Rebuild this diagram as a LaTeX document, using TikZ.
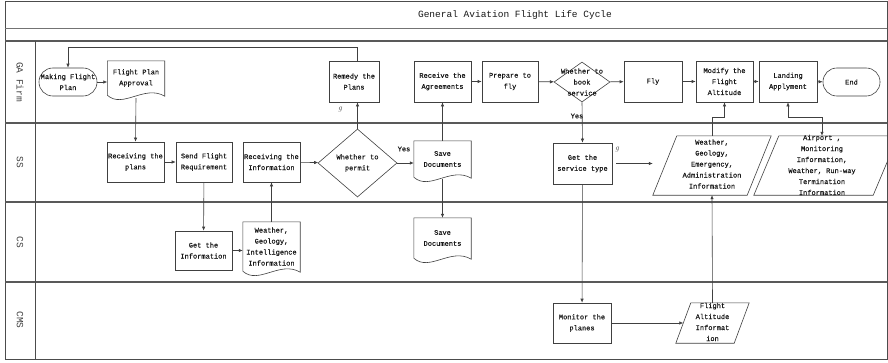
\documentclass[tikz,border=0pt]{standalone}
\usepackage{fontspec}
\setmonofont{Liberation Mono}
\newfontfamily\chartfont[FakeBold=0.35]{Liberation Mono}
\usetikzlibrary{shapes.geometric,arrows.meta,calc}

% document symbol: straight top and sides, wavy bottom edge
\newcommand\docoutline[1]{%
  \draw[ln] (#1.south west) -- (#1.north west) -- (#1.north east) -- ($(#1.south east)+(0,1)$)
    .. controls ($(#1.south west)!0.65!(#1.south east)+(0,-11)$)
           and ($(#1.south west)!0.27!(#1.south east)+(0,14)$) .. (#1.south west);}
% data symbol: parallelogram leaning right, #2 = half of the horizontal offset
\newcommand\paraoutline[2]{%
  \draw[ln] ($(#1.south west)+(-#2,0)$) -- ($(#1.north west)+(#2,0)$)
    -- ($(#1.north east)+(#2,0)$) -- ($(#1.south east)+(-#2,0)$) -- cycle;}

\begin{document}
\begin{tikzpicture}[x=1pt,y=-1pt,
  every node/.style={font=\chartfont\fontsize{7}{11}\selectfont, text=black!90,
                     align=center, inner sep=0pt},
  ln/.style={draw=black!75, line width=0.6pt},
  frame/.style={draw=black!70, line width=0.8pt},
  lane/.style={draw=black!65, line width=1.4pt},
  proc/.style={ln, rectangle, minimum width=57, minimum height=41},
  term/.style={ln, rectangle, rounded corners=13.8pt, minimum width=58, minimum height=28},
  docbox/.style={rectangle, minimum width=57},
  databox/.style={rectangle},
  decision/.style={ln, diamond, inner sep=0pt},
  lanelabel/.style={rotate=-90, font=\ttfamily\fontsize{9.5}{9.5}\selectfont, text=black!75},
  notemark/.style={font=\rmfamily\itshape\fontsize{8}{8}\selectfont, text=black!70},
  arr/.style={ln, -{Latex[length=4pt,width=3.4pt]}},
  arrboth/.style={ln, {Latex[length=4pt,width=3.4pt]}-{Latex[length=4pt,width=3.4pt]}},
]
\useasboundingbox (0,0) rectangle (888,362);
\fill[white] (0,0) rectangle (888,362);

% ---------- frame, title band and swimlanes ----------
\draw[frame] (5,1) rectangle (887,359);
\draw[draw=black!55, line width=0.6pt] (5,28) -- (887,28);
\draw[lane] (5,41) -- (887,41);
\draw[lane] (5,123) -- (887,123);
\draw[lane] (5,202) -- (887,202);
\draw[lane] (5,282) -- (887,282);
\draw[frame] (35,41) -- (35,359);

\node[font=\ttfamily\fontsize{9.5}{9.5}\selectfont] (title) at (515,15) {General Aviation Flight Life Cycle};
\node[lanelabel] (lga)  at (20,82)  {GA Firm};
\node[lanelabel] (lss)  at (20,162) {SS};
\node[lanelabel] (lcs)  at (20,242) {CS};
\node[lanelabel] (lcms) at (20,320) {CMS};

% ---------- GA Firm lane ----------
\node[term] (mkp) at (68,82) {Making Flight\\Plan};
\node[docbox, minimum height=34] (fpa) at (136,78) {Flight Plan\\Approval};
\docoutline{fpa}
\node[proc, minimum width=50] (rem) at (354,81.5) {Remedy the\\Plans};
\node[proc] (rag) at (442.5,81.5) {Receive the\\Agreements};
\node[proc, minimum width=56] (ptf) at (510,81.5) {Prepare to\\fly};
\node[decision, minimum width=56, minimum height=40] (dbook) at (582,82) {};
\node (dbookt) at (582,82) {Whether to\\book\\service};
\node[proc, minimum width=58] (fly) at (653,81.5) {Fly};
\node[proc] (mod) at (724.5,81.5) {Modify the\\Flight\\Altitude};
\node[proc, minimum width=58] (land) at (788,81.5) {Landing\\Applyment};
\node[term, minimum width=57] (endn) at (851.5,82) {End};

% ---------- SS lane ----------
\node[proc, minimum height=40] (rcp) at (135.5,162) {Receiving the\\plans};
\node[proc, minimum height=40, minimum width=56] (sfr) at (204,162) {Send Flight\\Requirement};
\node[proc, minimum height=40] (rci) at (271.5,162) {Receiving the\\Information};
\node[decision, minimum width=79, minimum height=68] (dperm) at (357.5,163) {};
\node (dpermt) at (357.5,163) {Whether to\\permit};
\node[docbox, minimum height=36] (sdoc) at (442.5,159) {Save\\Documents};
\docoutline{sdoc}
\node[proc, minimum width=59] (svc) at (582.5,163.5) {Get the\\service type};
\node[databox, minimum width=94, minimum height=59] (wgea) at (712,165.5) {};
\paraoutline{wgea}{12}
\node (wgeat) at (712,164) {Weather,\\Geology,\\Emergency,\\Administration\\Information};
\node[databox, minimum width=119, minimum height=59] (apt) at (826,165.5) {};
\paraoutline{apt}{12.5}
\node (aptt) at (822,165) {Airport ,\\Monitoring\\Information,\\Weather, Run-way\\Termination\\Information};

% ---------- CS lane ----------
\node[proc, minimum height=39] (gti) at (203.5,250.5) {Get the\\Information};
\node[docbox, minimum height=49] (wgi) at (271.5,246.5) {Weather,\\Geology,\\Intelligence\\Information};
\docoutline{wgi}
\node[docbox, minimum height=40] (sdoc2) at (442.5,238) {Save\\Documents};
\docoutline{sdoc2}

% ---------- CMS lane ----------
\node[proc, minimum width=58, minimum height=40] (mon) at (582,323) {Monitor the\\planes};
\node[databox, minimum width=58, minimum height=40] (fai) at (712.5,323) {};
\paraoutline{fai}{7.5}
\node (fait) at (712.5,322) {Flight\\Altitude\\Informat\\ion};

% ---------- connectors ----------
\draw[arr] (mkp.east) -- (mkp.east -| fpa.west);
\draw[arr] ($(fpa.south)+(0,3)$) -- (rcp.north);
\draw[arr] (dperm.north |- rem.north) -- ++(0,-13) -| (mkp.north);
\draw[arr] (rcp) -- (sfr);
\draw[arr] (sfr) -- (gti);
\draw[arr] (gti.east) -- (gti.east -| wgi.west);
\draw[arr] (wgi.north) -- (rci.south);
\draw[arr] (rci) -- (dperm);
\draw[arr] (dperm.north) -- (dperm.north |- rem.south);
\draw[arr] (dperm.east) -- (dperm.east -| sdoc.west);
\node (yes1) at (404,149) {Yes};
\draw[arr] (sdoc.north) -- (rag.south);
\draw[arr] ($(sdoc.south)+(0,2)$) -- (sdoc2.north);
\draw[arr] (rag) -- (ptf);
\draw[arr] (ptf) -- (dbook);
\draw[arr] (dbook) -- (fly);
\draw[arr] (fly) -- (mod);
\draw[arr] (mod) -- (land);
\draw[arr] (land) -- (endn);
\draw[arr] (dbook.south) -- (svc.north);
\node (yes2) at (577,116) {Yes};
\draw[arr] (svc) -- (mon);
\draw[arr] ($(svc.east)+(4,0)$) -- ($(wgea.west |- svc.east)+(-12,0)$);
\draw[arr] (mon.east) -- (mon.east -| fai.west);
\draw[arr] (fai.north) -- (wgea.south);
\draw[arr] (wgea.north) -- ++(0,-19) -| (mod.south);
\draw[arrboth] (land.south) -- ++(0,15) -| ($(apt.north)+(-4,0)$);

% small marks beside two steps
\node[notemark] (mk1) at (340,110) {g};
\node[notemark] (mk2) at (617,150) {g};
\end{tikzpicture}
\end{document}
